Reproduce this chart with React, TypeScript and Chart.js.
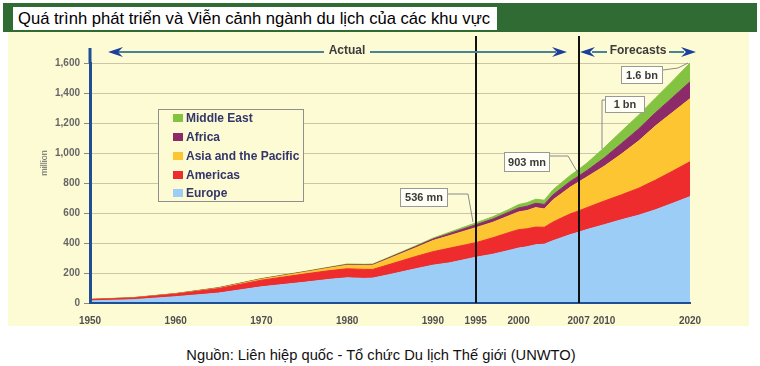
import React, { useEffect, useRef } from 'react';
import { Chart, registerables } from 'chart.js';

Chart.register(...registerables);

const TITLE = 'Quá trình phát triển và Viễn cảnh ngành du lịch của các khu vực';
const SOURCE = 'Nguồn: Liên hiệp quốc - Tổ chức Du lịch Thế giới (UNWTO)';
const Y_UNIT = 'million';
const ACTUAL_LABEL = 'Actual';
const FORECAST_LABEL = 'Forecasts';

const years = [1950, 1955, 1960, 1965, 1970, 1975, 1978, 1980, 1982, 1983, 1985, 1988, 1990, 1992, 1995, 1997, 1999, 2000, 2001, 2002, 2003, 2004, 2005, 2006, 2007, 2008, 2010, 2012, 2014, 2016, 2018, 2020];
const europe = [14, 22, 42, 66, 108, 138, 158, 168, 164, 166, 190, 228, 252, 268, 305, 325, 352, 366, 375, 388, 392, 415, 435, 455, 472, 490, 522, 555, 585, 622, 665, 709];
const americas = [9, 11, 18, 30, 44, 55, 58, 60, 60, 58, 68, 82, 90, 98, 97, 110, 120, 123, 120, 118, 113, 124, 132, 138, 142, 146, 158, 166, 180, 198, 215, 233];
const asiaPacific = [0.5, 1, 1.5, 3, 7, 12, 18, 24, 26, 28, 40, 58, 74, 84, 100, 103, 112, 118, 122, 130, 122, 148, 162, 178, 192, 205, 232, 272, 315, 362, 392, 420];
const africa = [0.5, 1, 1, 2, 2, 2.5, 3, 4, 4, 4, 6, 8, 10, 14, 19, 22, 25, 27, 28, 29, 30, 33, 36, 38, 40, 43, 56, 70, 80, 88, 100, 113];
const middleEast = [0.5, 1, 1, 2, 2, 2.5, 3, 4, 4, 4, 4, 5, 6, 9, 13, 15, 18, 22, 24, 27, 28, 34, 37, 40, 44, 50, 68, 82, 92, 98, 110, 125];

const seriesNames = ['Europe', 'Americas', 'Asia and the Pacific', 'Africa', 'Middle East'];
const seriesValues = [europe, americas, asiaPacific, africa, middleEast];
const seriesColors = ['#9ccdf6', '#ee2b2d', '#fdc532', '#8c2a6a', '#84c341'];

const xTickYears = [1950, 1960, 1970, 1980, 1990, 1995, 2000, 2007, 2010, 2020];
const yTickValues = [0, 200, 400, 600, 800, 1000, 1200, 1400, 1600];
const dividerYears = [1995, 2007];
const calloutLabels = ['536 mn', '903 mn', '1 bn', '1.6 bn'];

const PANEL_BG = '#fdfbd3';
const AXIS_BLUE = '#1d4e96';
const FONT = "'Liberation Sans', Arial, sans-serif";

function arrowHead(ctx: CanvasRenderingContext2D, tipX: number, y: number, dir: number) {
  ctx.beginPath();
  ctx.moveTo(tipX, y);
  ctx.lineTo(tipX - dir * 15, y - 5);
  ctx.lineTo(tipX - dir * 10, y);
  ctx.lineTo(tipX - dir * 15, y + 5);
  ctx.closePath();
  ctx.fill();
}

const overlayPlugin = {
  id: 'overlay',
  afterDraw(chart: any) {
    const ctx: CanvasRenderingContext2D = chart.ctx;
    const ca = chart.chartArea;
    const xs = chart.scales.x;
    ctx.save();

    // left axis extension above the plot
    ctx.strokeStyle = AXIS_BLUE;
    ctx.lineWidth = 3;
    ctx.beginPath();
    ctx.moveTo(ca.left, ca.top);
    ctx.lineTo(ca.left, 16);
    ctx.stroke();

    // divider lines
    ctx.strokeStyle = '#111';
    ctx.lineWidth = 2;
    dividerYears.forEach((yr) => {
      const px = Math.round(xs.getPixelForValue(yr));
      ctx.beginPath();
      ctx.moveTo(px, 4);
      ctx.lineTo(px, ca.bottom);
      ctx.stroke();
    });

    // Actual / Forecasts arrows
    const ay = 20;
    ctx.font = `bold 12px ${FONT}`;
    ctx.textAlign = 'center';
    ctx.textBaseline = 'middle';
    ctx.strokeStyle = '#4a8397';
    ctx.lineWidth = 2;
    const seg = (a: number, b: number) => {
      ctx.beginPath();
      ctx.moveTo(a, ay);
      ctx.lineTo(b, ay);
      ctx.stroke();
    };
    seg(110, 316);
    seg(362, 548);
    seg(584, 599);
    seg(661, 676);
    ctx.fillStyle = '#1c3f9c';
    arrowHead(ctx, 100, ay, -1);
    arrowHead(ctx, 559, ay, 1);
    arrowHead(ctx, 572, ay, -1);
    arrowHead(ctx, 688, ay, 1);
    ctx.fillStyle = '#3c3c3c';
    ctx.fillText(ACTUAL_LABEL, 339, ay - 1);
    ctx.fillText(FORECAST_LABEL, 630, ay - 1);

    // callouts
    const lineX = Math.round(xs.getPixelForValue(2007));
    const layout = [
      { box: [392, 156, 48, 19], path: [[440, 162], [460, 162], [465, 190]] },
      { box: [496, 120, 46, 20], path: [[542, 124], [560, 124], [lineX - 1, 141]] },
      { box: [597, 64, 40, 17], path: [[597, 68], [594, 68], [594, 117]] },
      { box: [613, 34, 42, 18], path: [[655, 38], [670, 36], [680, 31]] },
    ];
    ctx.font = `bold 11px ${FONT}`;
    layout.forEach((c, i) => {
      ctx.strokeStyle = '#8a8a8a';
      ctx.lineWidth = 1;
      ctx.beginPath();
      c.path.forEach((p, j) => (j === 0 ? ctx.moveTo(p[0], p[1]) : ctx.lineTo(p[0], p[1])));
      ctx.stroke();
      const [bx, by, bw, bh] = c.box;
      ctx.fillStyle = '#fffff6';
      ctx.fillRect(bx, by, bw, bh);
      ctx.strokeStyle = '#999';
      ctx.strokeRect(bx + 0.5, by + 0.5, bw - 1, bh - 1);
      ctx.fillStyle = '#3a3a3a';
      ctx.fillText(calloutLabels[i], bx + bw / 2, by + bh / 2 + 0.5);
    });

    // legend
    const lx = 150, ly = 77, lw = 146, lh = 93;
    ctx.fillStyle = PANEL_BG;
    ctx.fillRect(lx, ly, lw, lh);
    ctx.strokeStyle = '#8f8f8f';
    ctx.lineWidth = 1;
    ctx.strokeRect(lx + 0.5, ly + 0.5, lw - 1, lh - 1);
    const rows = [86, 105, 124, 143, 161];
    ctx.font = `bold 12px ${FONT}`;
    ctx.textAlign = 'left';
    for (let r = 0; r < seriesNames.length; r++) {
      const idx = seriesNames.length - 1 - r;
      const cy = rows[r];
      ctx.fillStyle = seriesColors[idx];
      ctx.fillRect(165, cy - 4, 10, 8);
      ctx.fillStyle = '#33366a';
      ctx.fillText(seriesNames[idx], 178, cy + 0.5);
    }

    // y unit label
    ctx.save();
    ctx.translate(37, 131);
    ctx.rotate(-Math.PI / 2);
    ctx.font = `9px ${FONT}`;
    ctx.fillStyle = '#666';
    ctx.textAlign = 'center';
    ctx.fillText(Y_UNIT, 0, 0);
    ctx.restore();

    ctx.restore();
  },
};

export default function App() {
  const ref = useRef<HTMLCanvasElement | null>(null);

  useEffect(() => {
    if (!ref.current) return;
    const datasets = seriesNames.map((name, i) => ({
      label: name,
      data: years.map((yr, k) => ({ x: yr, y: seriesValues[i][k] })),
      backgroundColor: seriesColors[i],
      borderColor: seriesColors[i],
      borderWidth: 1,
      pointRadius: 0,
      tension: 0,
      fill: i === 0 ? 'origin' : '-1',
    }));
    const chart = new Chart(ref.current, {
      type: 'line',
      data: { datasets },
      options: {
        animation: false,
        responsive: false,
        devicePixelRatio: 1,
        layout: { padding: { left: 30, right: 59, top: 31, bottom: 0 } },
        plugins: { legend: { display: false }, tooltip: { enabled: false } },
        scales: {
          x: {
            type: 'linear',
            min: 1950,
            max: 2020,
            afterBuildTicks: (s: any) => {
              s.ticks = xTickYears.map((v) => ({ value: v }));
            },
            afterFit: (s: any) => {
              s.height = 23;
            },
            grid: { display: false, drawTicks: false },
            border: { display: true, color: AXIS_BLUE, width: 2, z: 1 },
            ticks: {
              autoSkip: false,
              maxRotation: 0,
              padding: 12,
              color: '#505050',
              font: { family: FONT, size: 10, weight: 'bold' },
              callback: (v: any) => String(v),
            },
          },
          y: {
            type: 'linear',
            stacked: true,
            min: 0,
            max: 1600,
            afterBuildTicks: (s: any) => {
              s.ticks = yTickValues.map((v) => ({ value: v }));
            },
            afterFit: (s: any) => {
              s.width = 52;
            },
            grid: { color: '#cdc6a4', lineWidth: 1, tickLength: 6, tickColor: '#888' },
            border: { display: true, color: AXIS_BLUE, width: 3, z: 1 },
            ticks: {
              padding: 4,
              color: '#666',
              font: { family: FONT, size: 10, weight: 'bold' },
              callback: (v: any) => Number(v).toLocaleString('en-US'),
            },
          },
        },
      },
      plugins: [overlayPlugin],
    } as any);
    return () => chart.destroy();
  }, []);

  return (
    <div style={{ position: 'absolute', left: 0, top: 0, width: 760, height: 366, background: '#fff', overflow: 'hidden', fontFamily: FONT }}>
      <div style={{ position: 'absolute', left: 3, top: 3, width: 754, height: 29, background: '#2f6b32' }} />
      <div
        style={{
          position: 'absolute', left: 13, top: 7, width: 484, height: 23, background: '#fff',
          fontSize: 16.6, lineHeight: '23px', color: '#000', paddingLeft: 5, boxSizing: 'border-box', whiteSpace: 'nowrap',
        }}
      >
        {TITLE}
      </div>
      <div style={{ position: 'absolute', left: 8, top: 32, width: 741, height: 294, background: PANEL_BG }} />
      <canvas ref={ref} width={741} height={294} style={{ position: 'absolute', left: 8, top: 32, width: 741, height: 294 }} />
      <div
        style={{
          position: 'absolute', left: 0, top: 345, width: 762, textAlign: 'center',
          fontSize: 14.7, lineHeight: '20px', color: '#111', whiteSpace: 'nowrap',
        }}
      >
        {SOURCE}
      </div>
    </div>
  );
}
